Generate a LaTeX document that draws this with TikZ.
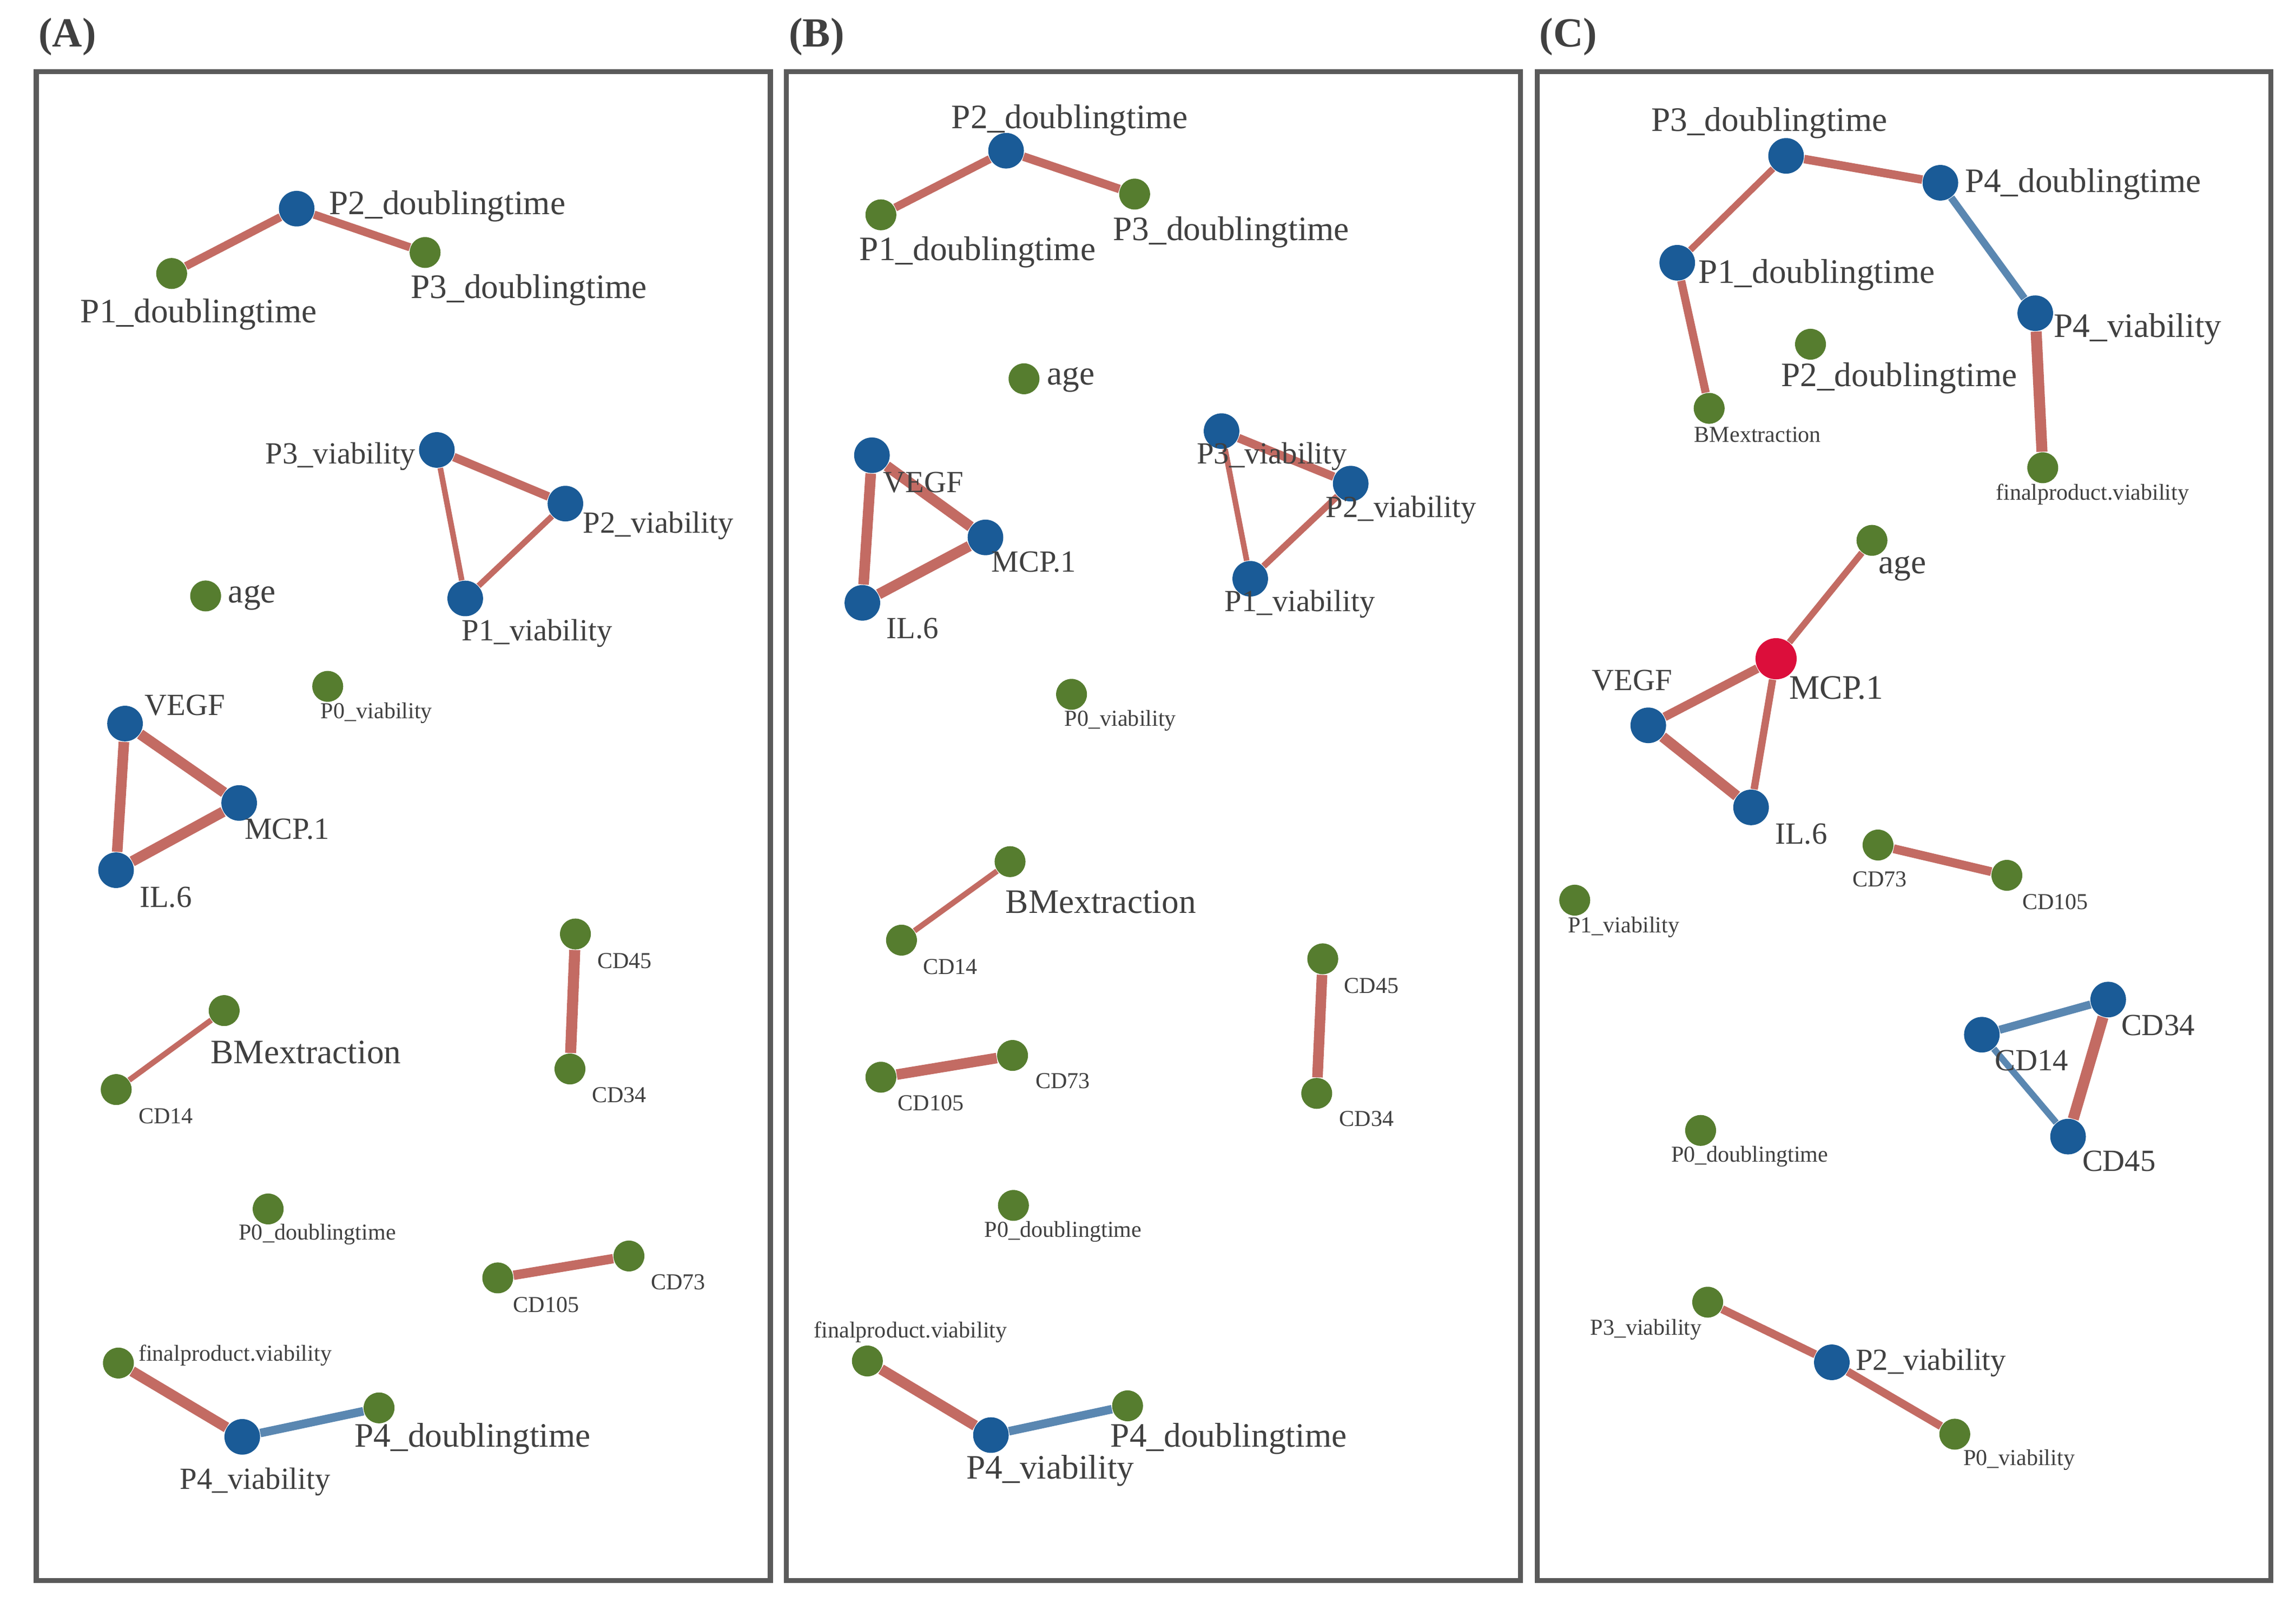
\documentclass[tikz,border=0pt]{standalone}
\usepackage{fontspec}
\setmainfont{Liberation Serif}
\definecolor{nblue}{HTML}{1A5B97}
\definecolor{ngreen}{HTML}{567D2F}
\definecolor{nred}{HTML}{DC0E3B}
\definecolor{ered}{HTML}{C36B63}
\definecolor{eblue}{HTML}{5A87B1}
\definecolor{tgray}{HTML}{404040}
\definecolor{bgray}{HTML}{5A5A5A}
\tikzset{
  bn/.style={circle, fill=nblue, inner sep=0pt, minimum size=12.1pt},
  gn/.style={circle, fill=ngreen, inner sep=0pt, minimum size=10.5pt},
  rn/.style={circle, fill=nred, inner sep=0pt, minimum size=14pt},
  lbL/.style={font=\fontsize{11.65}{13}\selectfont, text=tgray, inner sep=0pt, anchor=base west},
  lbM/.style={font=\fontsize{10.45}{12}\selectfont, text=tgray, inner sep=0pt, anchor=base west},
  lbS/.style={font=\fontsize{7.75}{9}\selectfont, text=tgray, inner sep=0pt, anchor=base west},
  ptitle/.style={font=\fontsize{14.1}{16}\selectfont\bfseries, text=tgray, inner sep=0pt, anchor=base west},
  er/.style={draw=ered, line width=#1},
  eb/.style={draw=eblue, line width=#1},
  panel/.style={draw=bgray, line width=1.7pt}
}
\begin{document}
\begin{tikzpicture}[x=0.5pt,y=-0.5pt]
\useasboundingbox (0,0) rectangle (1561,1094.6);
\fill[white] (0,0) rectangle (1561,1094.6);

% panel frames and titles
\draw[panel] (24.6,48.6) rectangle (523.8,1075);
\draw[panel] (534.6,48.6) rectangle (1033.8,1075);
\draw[panel] (1045,48.6) rectangle (1544,1075);
\node[ptitle] (tA) at (25.8,31.7) {(A)};
\node[ptitle] (tB) at (536,31.7) {(B)};
\node[ptitle] (tC) at (1046.2,31.7) {(C)};

% ================= Panel A nodes =================
\node[bn] (ap2dt) at (201.7,141.9) {};
\node[gn] (ap1dt) at (116.7,186) {};
\node[gn] (ap3dt) at (289,171.7) {};
\node[bn] (ap3v) at (297,306) {};
\node[bn] (ap2v) at (384.4,342.5) {};
\node[bn] (ap1v) at (316.3,407) {};
\node[gn] (aage) at (139.8,405.3) {};
\node[gn] (ap0v) at (222.8,466.8) {};
\node[bn] (avegf) at (85,492.1) {};
\node[bn] (amcp) at (162.6,546.1) {};
\node[bn] (ail6) at (78.9,591.8) {};
\node[gn] (acd45) at (391.2,635.2) {};
\node[gn] (acd34) at (387.5,727) {};
\node[gn] (abm) at (152.4,687.3) {};
\node[gn] (acd14) at (79,741) {};
\node[gn] (ap0dt) at (182.3,822.2) {};
\node[gn] (acd105) at (338.4,869.1) {};
\node[gn] (acd73) at (427.6,854.2) {};
\node[gn] (afp) at (80.5,927) {};
\node[bn] (ap4v) at (164.7,977.2) {};
\node[gn] (ap4dt) at (257.7,957.5) {};

% ================= Panel B nodes =================
\node[bn] (bp2dt) at (684,102.5) {};
\node[gn] (bp1dt) at (598.9,146.1) {};
\node[gn] (bp3dt) at (771.4,132) {};
\node[gn] (bage) at (696.2,257.6) {};
\node[bn] (bvegf) at (592.8,309.6) {};
\node[bn] (bmcp) at (670,365.5) {};
\node[bn] (bil6) at (586.3,410) {};
\node[bn] (bp3v) at (830.5,293.2) {};
\node[bn] (bp2v) at (918.3,328.9) {};
\node[bn] (bp1v) at (850,393.6) {};
\node[gn] (bp0v) at (728.5,472.2) {};
\node[gn] (bbm) at (686.7,586) {};
\node[gn] (bcd14) at (612.9,639.4) {};
\node[gn] (bcd45) at (899.3,652.1) {};
\node[gn] (bcd73) at (688.4,717.8) {};
\node[gn] (bcd105) at (598.9,732.6) {};
\node[gn] (bcd34) at (895.2,743.6) {};
\node[gn] (bp0dt) at (689,819.8) {};
\node[gn] (bfp) at (589.7,925.6) {};
\node[bn] (bp4v) at (673.7,976) {};
\node[gn] (bp4dt) at (766.6,956.1) {};

% ================= Panel C nodes =================
\node[bn] (cp3dt) at (1214.3,106) {};
\node[bn] (cp4dt) at (1319.2,124.3) {};
\node[bn] (cp1dt) at (1140.3,178.7) {};
\node[bn] (cp4v) at (1383.7,213) {};
\node[gn] (cp2dt) at (1230.9,234.1) {};
\node[gn] (cbm) at (1162,277.7) {};
\node[gn] (cfp) at (1388.8,318.1) {};
\node[gn] (cage) at (1272.7,367.5) {};
\node[rn] (cmcp) at (1207.5,448) {};
\node[bn] (cvegf) at (1120.6,493.3) {};
\node[bn] (cil6) at (1190.5,549.1) {};
\node[gn] (ccd73) at (1276.8,574.7) {};
\node[gn] (ccd105) at (1364.4,595.3) {};
\node[gn] (cp1v) at (1070.6,612.2) {};
\node[bn] (ccd34) at (1433.3,679.8) {};
\node[bn] (ccd14) at (1347.4,703.7) {};
\node[bn] (ccd45) at (1406,773) {};
\node[gn] (cp0dt) at (1156.2,768.8) {};
\node[gn] (cp3v) at (1161,885.6) {};
\node[bn] (cp2v) at (1245.4,926.5) {};
\node[gn] (cp0v) at (1329,975.4) {};

% ================= Edges A =================
\draw[er=2.75pt] (ap1dt) -- (ap2dt);
\draw[er=2.75pt] (ap2dt) -- (ap3dt);
\draw[er=2.9pt] (ap3v) -- (ap2v);
\draw[er=1.9pt] (ap3v) -- (ap1v);
\draw[er=2.0pt] (ap2v) -- (ap1v);
\draw[er=3.6pt] (avegf) -- (ail6);
\draw[er=3.6pt] (avegf) -- (amcp);
\draw[er=3.6pt] (amcp) -- (ail6);
\draw[er=3.75pt] (acd45) -- (acd34);
\draw[er=1.9pt] (abm) -- (acd14);
\draw[er=3.2pt] (acd105) -- (acd73);
\draw[er=3.6pt] (afp) -- (ap4v);
\draw[eb=2.9pt] (ap4v) -- (ap4dt);

% ================= Edges B =================
\draw[er=2.75pt] (bp1dt) -- (bp2dt);
\draw[er=2.9pt] (bp2dt) -- (bp3dt);
\draw[er=3.6pt] (bvegf) -- (bil6);
\draw[er=3.6pt] (bvegf) -- (bmcp);
\draw[er=3.6pt] (bmcp) -- (bil6);
\draw[er=2.9pt] (bp3v) -- (bp2v);
\draw[er=1.9pt] (bp3v) -- (bp1v);
\draw[er=2.2pt] (bp2v) -- (bp1v);
\draw[er=1.9pt] (bbm) -- (bcd14);
\draw[er=3.6pt] (bcd45) -- (bcd34);
\draw[er=3.6pt] (bcd73) -- (bcd105);
\draw[er=3.6pt] (bfp) -- (bp4v);
\draw[eb=2.9pt] (bp4v) -- (bp4dt);

% ================= Edges C =================
\draw[er=2.9pt] (cp3dt) -- (cp4dt);
\draw[er=2.2pt] (cp3dt) -- (cp1dt);
\draw[er=2.75pt] (cp1dt) -- (cbm);
\draw[eb=2.5pt] (cp4dt) -- (cp4v);
\draw[er=3.75pt] (cp4v) -- (cfp);
\draw[er=2.2pt] (cage) -- (cmcp);
\draw[er=3.0pt] (cmcp) -- (cvegf);
\draw[er=2.5pt] (cmcp) -- (cil6);
\draw[er=3.6pt] (cvegf) -- (cil6);
\draw[er=3.0pt] (ccd73) -- (ccd105);
\draw[eb=2.75pt] (ccd14) -- (ccd34);
\draw[eb=2.2pt] (ccd14) -- (ccd45);
\draw[er=3.75pt] (ccd34) -- (ccd45);
\draw[er=2.75pt] (cp3v) -- (cp2v);
\draw[er=2.75pt] (cp2v) -- (cp0v);

% ================= Labels A =================
\node[lbL] (ap2dtT) at (223.5,145.9) {P2\_doublingtime};
\node[lbL] (ap1dtT) at (54.4,219.3) {P1\_doublingtime};
\node[lbL] (ap3dtT) at (279,203) {P3\_doublingtime};
\node[lbM] (ap3vT) at (180,315.5) {P3\_viability};
\node[lbM] (ap2vT) at (396,362.4) {P2\_viability};
\node[lbM] (ap1vT) at (313.6,435.8) {P1\_viability};
\node[lbL] (aageT) at (154.8,410) {age};
\node[lbS] (ap0vT) at (217.7,488.6) {P0\_viability};
\node[lbM] (avegfT) at (98,486.3) {VEGF};
\node[lbM] (amcpT) at (166,570.7) {MCP.1};
\node[lbM] (ail6T) at (94.6,617) {IL.6};
\node[lbS] (acd45T) at (405.8,658.7) {CD45};
\node[lbS] (acd34T) at (402,749.8) {CD34};
\node[lbL] (abmT) at (142.9,723.2) {BMextraction};
\node[lbS] (acd14T) at (93.9,764.2) {CD14};
\node[lbS] (ap0dtT) at (162,843.3) {P0\_doublingtime};
\node[lbS] (acd105T) at (348.6,892.4) {CD105};
\node[lbS] (acd73T) at (442.2,877.1) {CD73};
\node[lbS] (afpT) at (93.8,925.6) {finalproduct.viability};
\node[lbM] (ap4vT) at (122,1012.6) {P4\_viability};
\node[lbL] (ap4dtT) at (240.7,984.2) {P4\_doublingtime};

% ================= Labels B =================
\node[lbL] (bp2dtT) at (646.5,87.3) {P2\_doublingtime};
\node[lbL] (bp1dtT) at (584,177.1) {P1\_doublingtime};
\node[lbL] (bp3dtT) at (756.4,163.5) {P3\_doublingtime};
\node[lbL] (bageT) at (711.5,261.6) {age};
\node[lbM] (bvegfT) at (600,335) {VEGF};
\node[lbM] (bmcpT) at (673.7,388.9) {MCP.1};
\node[lbM] (bil6T) at (602.3,434.2) {IL.6};
\node[lbM] (bp3vT) at (813.2,315.5) {P3\_viability};
\node[lbM] (bp2vT) at (901,351.9) {P2\_viability};
\node[lbM] (bp1vT) at (832.2,415.9) {P1\_viability};
\node[lbS] (bp0vT) at (723.4,493.8) {P0\_viability};
\node[lbL] (bbmT) at (683.3,621.1) {BMextraction};
\node[lbS] (bcd14T) at (627.1,662.7) {CD14};
\node[lbS] (bcd45T) at (913.5,675.6) {CD45};
\node[lbS] (bcd73T) at (703.7,740.2) {CD73};
\node[lbS] (bcd105T) at (610.1,755.1) {CD105};
\node[lbS] (bcd34T) at (910.1,765.8) {CD34};
\node[lbS] (bp0dtT) at (669,841.4) {P0\_doublingtime};
\node[lbS] (bfpT) at (553,909.6) {finalproduct.viability};
\node[lbL] (bp4vT) at (656.7,1005.7) {P4\_viability};
\node[lbL] (bp4dtT) at (754.7,984) {P4\_doublingtime};

% ================= Labels C =================
\node[lbL] (cp3dtT) at (1122.3,89.1) {P3\_doublingtime};
\node[lbL] (cp4dtT) at (1335.5,130.7) {P4\_doublingtime};
\node[lbL] (cp1dtT) at (1154.5,192.4) {P1\_doublingtime};
\node[lbL] (cp4vT) at (1396,229.4) {P4\_viability};
\node[lbL] (cp2dtT) at (1210.5,262.7) {P2\_doublingtime};
\node[lbS] (cbmT) at (1151.5,300.7) {BMextraction};
\node[lbS] (cfpT) at (1356.6,340.1) {finalproduct.viability};
\node[lbL] (cageT) at (1276.8,390.1) {age};
\node[lbL] (cmcpT) at (1216,475.2) {MCP.1};
\node[lbM] (cvegfT) at (1081.9,469.4) {VEGF};
\node[lbM] (cil6T) at (1206.5,573.8) {IL.6};
\node[lbS] (ccd73T) at (1259.1,603.1) {CD73};
\node[lbS] (ccd105T) at (1374.5,618.3) {CD105};
\node[lbS] (cp1vT) at (1065.6,634.1) {P1\_viability};
\node[lbM] (ccd34T) at (1441.8,704) {CD34};
\node[lbM] (ccd14T) at (1355.9,727.9) {CD14};
\node[lbM] (ccd45T) at (1415.3,796.3) {CD45};
\node[lbS] (cp0dtT) at (1135.8,790.1) {P0\_doublingtime};
\node[lbS] (cp3vT) at (1080.8,907.8) {P3\_viability};
\node[lbM] (cp2vT) at (1261.3,931.7) {P2\_viability};
\node[lbS] (cp0vT) at (1334.4,996.6) {P0\_viability};
\end{tikzpicture}
\end{document}
